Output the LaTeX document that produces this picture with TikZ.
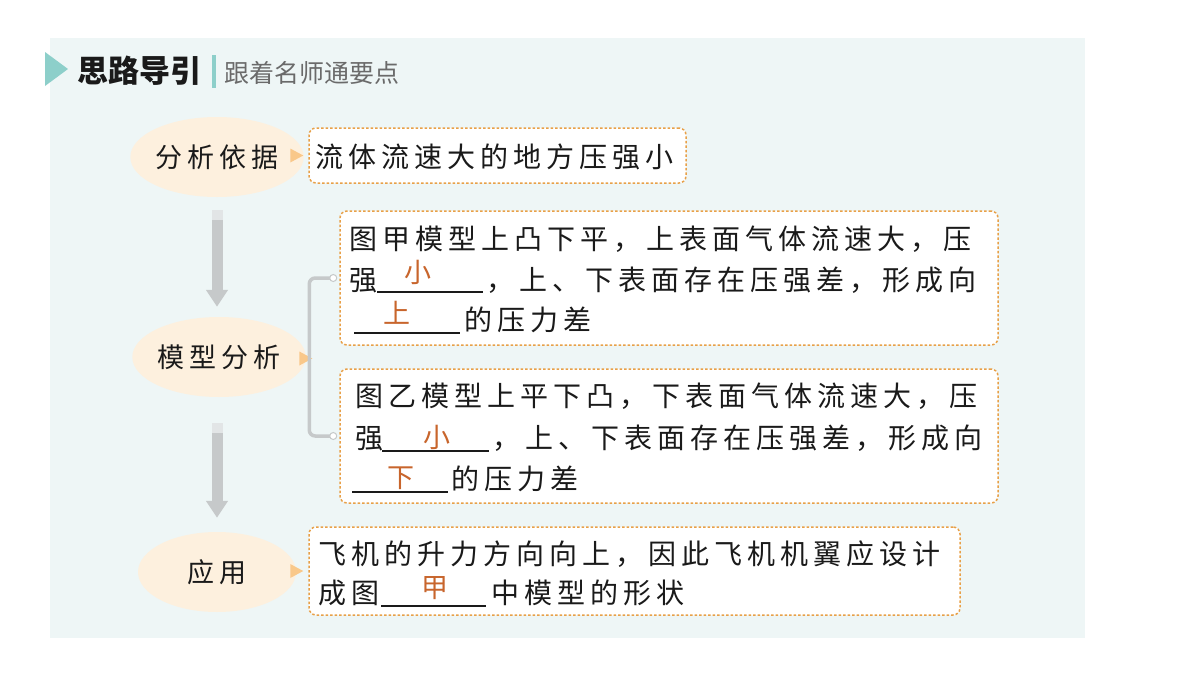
\documentclass[tikz,border=0pt]{standalone}
\usepackage{fontspec}
\usetikzlibrary{arrows.meta,shapes.geometric}
\newfontfamily\cjk{Noto Sans CJK SC}[LetterSpace=18]
\newfontfamily\cjkh{Noto Sans CJK SC}
\definecolor{cpanel}{HTML}{EEF6F6}
\definecolor{cteal}{HTML}{8DCFCA}
\definecolor{cpeach}{HTML}{FDF0DE}
\definecolor{ctri}{HTML}{F9C88A}
\definecolor{cdash}{HTML}{E8A048}
\definecolor{cans}{HTML}{C8652C}
\definecolor{cink}{HTML}{1A1A1A}
\definecolor{cgray}{HTML}{C6C9CA}
\definecolor{clight}{HTML}{E2E5E6}
\definecolor{csub}{HTML}{6A6A6A}
\begin{document}
\begin{tikzpicture}[x=1pt,y=-1pt,
  txt/.style={anchor=base west, inner sep=0, font=\cjk\fontsize{28}{32}\selectfont, text=cink},
  ans/.style={inner sep=0, font=\cjkh\fontsize{27}{27}\selectfont, text=cans},
  ell/.style={ellipse, fill=cpeach, minimum width=158, minimum height=80, inner sep=0, font=\cjk\fontsize{27}{30}\selectfont, text=cink},
  box/.style={draw=cdash, line width=1.5pt, dash pattern=on 2.5pt off 2pt, rounded corners=7pt, fill=white, inner sep=0},
  uline/.style={line width=1.1pt, cink},
  bigarrow/.style={line width=11pt, cgray, -{Triangle[width=21pt,length=17pt]}},
  armline/.style={line width=3.5pt, cgray, rounded corners=6pt},
  dotc/.style={circle, draw=cgray, fill=white, line width=1pt, minimum size=7pt, inner sep=0},
  marker/.style={fill=ctri}]
\useasboundingbox (0,0) rectangle (1200,675);
\fill[white] (0,0) rectangle (1200,675);
\fill[cpanel] (50,38) rectangle (1085,638);
% header
\fill[cteal] (45,52) -- (68,69) -- (45,86) -- cycle;
\node[anchor=west, inner sep=0, font=\cjkh\bfseries\fontsize{31}{31}\selectfont, text=cink] (h1) at (77,71) {思路导引};
\fill[cteal] (212,55) rectangle (215.5,88);
\node[anchor=west, inner sep=0, font=\cjkh\fontsize{25}{25}\selectfont, text=csub] (h2) at (224,73) {跟着名师通要点};
% ellipses
\node[ell] (e1) at (217,157) {分析依据};
\node[ell] (e2) at (219,357) {模型分析};
\node[ell] (e3) at (217,572) {应用};
% arrows
\draw[line width=11pt, clight] ([yshift=-13pt]e1.south) -- ([yshift=-23pt]e1.south);
\draw[bigarrow] ([yshift=-23pt]e1.south) -- ([yshift=10pt]e2.north -| e1.south);
\draw[line width=11pt, clight] ([yshift=-26pt]e2.south -| e1.south) -- ([yshift=-36pt]e2.south -| e1.south);
\draw[bigarrow] ([yshift=-36pt]e2.south -| e1.south) -- ([yshift=14pt]e3.north);
% boxes
\node[box, minimum width=377, minimum height=55] (b1) at (497.5,155.5) {};
\node[box, minimum width=658, minimum height=134] (b2) at (669,278) {};
\node[box, minimum width=658, minimum height=134] (b3) at (669,436) {};
\node[box, minimum width=651, minimum height=88] (b4) at (634.5,571) {};
% markers
\fill[marker] ([xshift=-5pt]b1.west) -- ++(-13,-7) -- ++(0,14) -- cycle;
\fill[marker] ([xshift=6.5pt,yshift=-1.5pt]e2.east) -- ++(-13,-7) -- ++(0,14) -- cycle;
\fill[marker] ([xshift=-5pt]b4.west) -- ++(-13,-7) -- ++(0,14) -- cycle;
% bracket
\coordinate (c2) at ([xshift=-6pt]b2.west);
\coordinate (c3) at ([xshift=-6pt]b3.west);
\draw[armline] (c2) -- ++(-24,0) |- (c3);
\node[dotc] (d2) at (c2) {};
\node[dotc] (d3) at (c3) {};
% box 1 text
\node[txt] (t1) at (315,167.5) {流体流速大的地方压强小};
% box 2 text
\node[txt] (t2a) at (349,249.5) {图甲模型上凸下平，上表面气体流速大，压};
\node[txt] (t2b) at (349,290) {强};
\draw[uline] (377,292) -- (483,292);
\node[ans] (a2b) at (418,272) {小};
\node[txt] (t2c) at (486,290) {，上、下表面存在压强差，形成向};
\draw[uline] (354,333) -- (460,333);
\node[ans] (a2c) at (397,313) {上};
\node[txt] (t2d) at (464,330) {的压力差};
% box 3 text
\node[txt] (t3a) at (355,406.5) {图乙模型上平下凸，下表面气体流速大，压};
\node[txt] (t3b) at (355,448) {强};
\draw[uline] (382,451) -- (489,451);
\node[ans] (a3b) at (437,437) {小};
\node[txt] (t3c) at (492,448) {，上、下表面存在压强差，形成向};
\draw[uline] (352,492) -- (448,492);
\node[ans] (a3c) at (401,478) {下};
\node[txt] (t3d) at (451,489) {的压力差};
% box 4 text
\node[txt] (t4a) at (318,564.5) {飞机的升力方向向上，因此飞机机翼应设计};
\node[txt] (t4b) at (318,603) {成图};
\draw[uline] (381,606) -- (486,606);
\node[ans] (a4b) at (435,588) {甲};
\node[txt] (t4c) at (491,603) {中模型的形状};
\end{tikzpicture}
\end{document}
